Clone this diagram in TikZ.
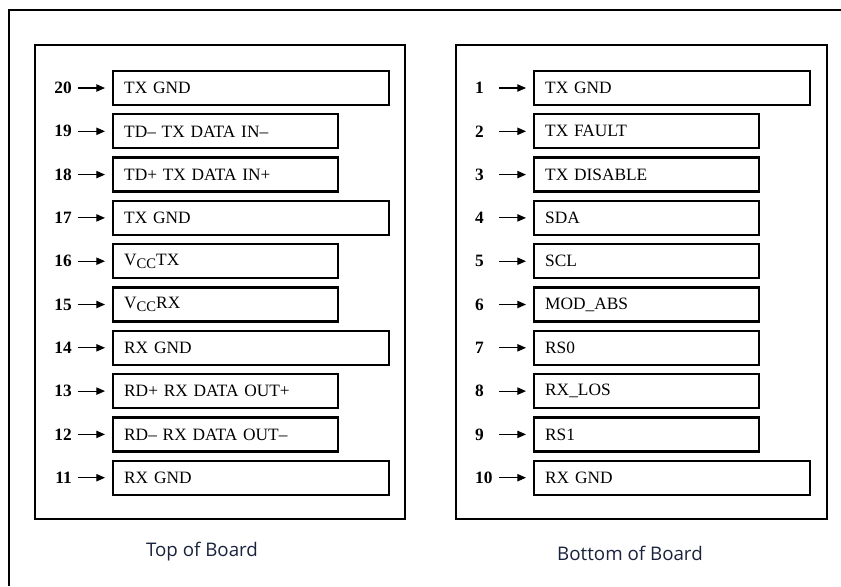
\documentclass[tikz,border=0pt]{standalone}
\usepackage{fontspec}
\setmainfont{Liberation Serif}
\newfontfamily\capfont{Open Sans}
\usetikzlibrary{arrows.meta}
\definecolor{capcol}{RGB}{25,35,60}
\newcommand{\vccsub}{V\raisebox{-0.45ex}{\fontsize{12.5}{13}\selectfont CC}}

\tikzset{
    pinbox/.style={draw, line width=2pt, anchor=west, minimum height=1.02cm,
        inner xsep=0.33cm, inner ysep=0pt, align=left,
        font=\fontsize{14.8}{16}\selectfont},
    longpin/.style={pinbox, text width=7.62cm},
    shortpin/.style={pinbox, text width=6.09cm},
    numleft/.style={anchor=east, inner sep=0pt, text width=0.6cm, align=right,
        font=\fontsize{14.8}{16}\selectfont\bfseries},
    numright/.style={anchor=west, inner sep=0pt, text width=0.54cm, align=left,
        font=\fontsize{14.8}{16}\selectfont\bfseries},
    pinarrow/.style={-{Triangle[length=0.26cm,width=0.22cm]}, line width=1pt,
        shorten <=0.18cm, shorten >=0.21cm},
    boardcap/.style={font=\capfont\fontsize{16}{18}\selectfont, text=capcol}
}

\begin{document}
\begin{tikzpicture}[x=0.03cm, y=-0.03cm]
    \useasboundingbox (0,0) rectangle (841,586);

    % Outer frame (only top and left edges show)
    \draw[line width=1.6pt] (9,586) -- (9,10) -- (841,10);

    % Panels
    \draw[line width=2pt] (35,45) rectangle (405,519);
    \draw[line width=2pt] (456,45) rectangle (827,519);

    % Top of board, pins 20 to 11
    \node[numleft] (n20) at (72,88) {20};    \node[longpin]  (p20) at (112,88) {TX GND};
    \node[numleft] (n19) at (72,131.3) {19}; \node[shortpin] (p19) at (112,131.3) {TD– TX DATA IN–};
    \node[numleft] (n18) at (72,174.6) {18}; \node[shortpin] (p18) at (112,174.6) {TD+ TX DATA IN+};
    \node[numleft] (n17) at (72,217.9) {17}; \node[longpin]  (p17) at (112,217.9) {TX GND};
    \node[numleft] (n16) at (72,261.2) {16}; \node[shortpin] (p16) at (112,261.2) {\vccsub TX};
    \node[numleft] (n15) at (72,304.5) {15}; \node[shortpin] (p15) at (112,304.5) {\vccsub RX};
    \node[numleft] (n14) at (72,347.8) {14}; \node[longpin]  (p14) at (112,347.8) {RX GND};
    \node[numleft] (n13) at (72,391.1) {13}; \node[shortpin] (p13) at (112,391.1) {RD+ RX DATA OUT+};
    \node[numleft] (n12) at (72,434.4) {12}; \node[shortpin] (p12) at (112,434.4) {RD– RX DATA OUT–};
    \node[numleft] (n11) at (72,477.7) {11}; \node[longpin]  (p11) at (112,477.7) {RX GND};

    \draw[pinarrow] (n20.east) -- (p20.west);
    \draw[pinarrow] (n19.east) -- (p19.west);
    \draw[pinarrow] (n18.east) -- (p18.west);
    \draw[pinarrow] (n17.east) -- (p17.west);
    \draw[pinarrow] (n16.east) -- (p16.west);
    \draw[pinarrow] (n15.east) -- (p15.west);
    \draw[pinarrow] (n14.east) -- (p14.west);
    \draw[pinarrow] (n13.east) -- (p13.west);
    \draw[pinarrow] (n12.east) -- (p12.west);
    \draw[pinarrow] (n11.east) -- (p11.west);

    % Bottom of board, pins 1 to 10
    \node[numright] (n1) at (475,88) {1};     \node[longpin]  (p1) at (533,88) {TX GND};
    \node[numright] (n2) at (475,131.3) {2};  \node[shortpin] (p2) at (533,131.3) {TX FAULT};
    \node[numright] (n3) at (475,174.6) {3};  \node[shortpin] (p3) at (533,174.6) {TX DISABLE};
    \node[numright] (n4) at (475,217.9) {4};  \node[shortpin] (p4) at (533,217.9) {SDA};
    \node[numright] (n5) at (475,261.2) {5};  \node[shortpin] (p5) at (533,261.2) {SCL};
    \node[numright] (n6) at (475,304.5) {6};  \node[shortpin] (p6) at (533,304.5) {MOD\_ABS};
    \node[numright] (n7) at (475,347.8) {7};  \node[shortpin] (p7) at (533,347.8) {RS0};
    \node[numright] (n8) at (475,391.1) {8};  \node[shortpin] (p8) at (533,391.1) {RX\_LOS};
    \node[numright] (n9) at (475,434.4) {9};  \node[shortpin] (p9) at (533,434.4) {RS1};
    \node[numright] (n10) at (475,477.7) {10}; \node[longpin] (p10) at (533,477.7) {RX GND};

    \draw[pinarrow] (n1.east) -- (p1.west);
    \draw[pinarrow] (n2.east) -- (p2.west);
    \draw[pinarrow] (n3.east) -- (p3.west);
    \draw[pinarrow] (n4.east) -- (p4.west);
    \draw[pinarrow] (n5.east) -- (p5.west);
    \draw[pinarrow] (n6.east) -- (p6.west);
    \draw[pinarrow] (n7.east) -- (p7.west);
    \draw[pinarrow] (n8.east) -- (p8.west);
    \draw[pinarrow] (n9.east) -- (p9.west);
    \draw[pinarrow] (n10.east) -- (p10.west);

    % Captions
    \node[boardcap] (topcap) at (202,552) {Top of Board};
    \node[boardcap] (botcap) at (630,553) {Bottom of Board};
\end{tikzpicture}
\end{document}
